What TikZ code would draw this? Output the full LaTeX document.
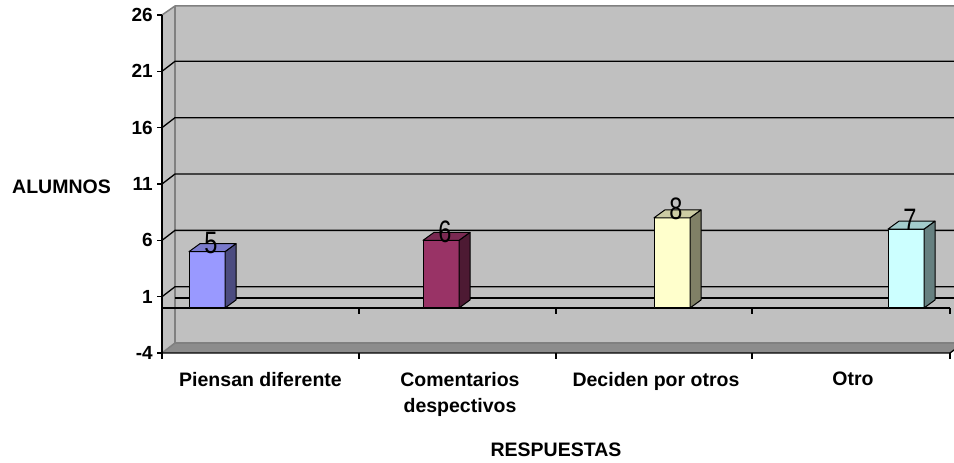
\documentclass[tikz,border=0pt]{standalone}
\usepackage{fontspec}
\setmainfont{Liberation Sans}
\newfontfamily\valuefont{Liberation Sans}[FakeStretch=0.76]
\usetikzlibrary{calc}
\usetikzlibrary{positioning}

\definecolor{wallgray}{HTML}{C0C0C0}
\definecolor{edgegray}{HTML}{808080}
\definecolor{floorgray}{HTML}{8C8C8C}
\definecolor{bluefront}{HTML}{9999FF}
\definecolor{blueside}{HTML}{4C4C80}
\definecolor{bluetop}{HTML}{7A7ACC}
\definecolor{plumfront}{HTML}{993366}
\definecolor{plumside}{HTML}{4D1A33}
\definecolor{plumtop}{HTML}{7A2952}
\definecolor{creamfront}{HTML}{FFFFCC}
\definecolor{creamside}{HTML}{808066}
\definecolor{creamtop}{HTML}{CCCCA3}
\definecolor{cyanfront}{HTML}{CCFFFF}
\definecolor{cyanside}{HTML}{668080}
\definecolor{cyantop}{HTML}{A3CCCC}

\tikzset{
  gridline/.style={line width=1.3pt},
  ticklabel/.style={anchor=east,inner sep=0pt,font=\bfseries\fontsize{19}{19}\selectfont},
  catlabel/.style={anchor=north,inner sep=0pt,align=center,font=\bfseries\fontsize{19.5}{26}\selectfont},
  titlelabel/.style={inner sep=0pt,font=\bfseries\fontsize{19.5}{19.5}\selectfont},
  valuelabel/.style={inner sep=0pt,font=\valuefont\fontsize{31}{31}\selectfont},
  baredge/.style={draw=black,line width=1pt,line join=round}
}

\begin{document}
\begin{tikzpicture}[x=1pt,y=1pt]
      \useasboundingbox (0,0) rectangle (954,463);
      % walls and floor
      \fill[wallgray] (175,120) rectangle (954,457);
      \fill[wallgray] (162,110) -- (162,448) -- (175,457) -- (175,120) -- cycle;
      \fill[floorgray] (162,110) -- (950,110) -- (963,120) -- (175,120) -- cycle;
      \draw[edgegray,line width=1.5pt] (162,448) -- (175,457) -- (954,457);
      \draw[edgegray,line width=1.5pt] (175,457) -- (175,120) -- (954,120);
      \draw[edgegray,line width=1.5pt] (162,110) -- (175,120);

      % gridlines
      \foreach \v in {1,6,11,16,21}
        \draw[gridline] (162,{155+11.27*\v}) -- ++(13,10) -- (954,{165+11.27*\v});
      \draw[gridline] (175,165) -- (954,165);
      \draw[gridline] (162,155) -- (950,155);
      \foreach \x in {359,556,752,950}
        \draw[gridline] (\x,155) -- (\x,149);

      % axes
      \draw[gridline] (162,110) -- (162,448);
      \draw[gridline] (162,110) -- (950,110) -- (958,116);
      \foreach \x in {162,359,556,752,950}
        \draw[gridline] (\x,110) -- (\x,104);
      \foreach \v [count=\i] in {-4,1,6,11,16,21,26} {
        \draw[gridline] (162,{155+11.27*\v}) -- (157,{155+11.27*\v});
        \node[ticklabel] (tick\i) at (153,{155+11.27*\v}) {\v};
      }

      % bars
      \foreach \x/\v/\fc/\sc/\tc [count=\i] in {189/5/bluefront/blueside/bluetop,
          423/6/plumfront/plumside/plumtop,
          654/8/creamfront/creamside/creamtop,
          888/7/cyanfront/cyanside/cyantop} {
        \pgfmathsetmacro\h{155+11.27*\v}
        \draw[baredge,fill=\fc] (\x,155) rectangle (\x+36,\h);
        \draw[baredge,fill=\sc] (\x+36,155) -- (\x+47,163) -- (\x+47,\h+8) -- (\x+36,\h) -- cycle;
        \draw[baredge,fill=\tc] (\x,\h) -- (\x+11,\h+8) -- (\x+47,\h+8) -- (\x+36,\h) -- cycle;
        \node[valuelabel] (val\i) at (\x+22,\h+9) {\v};
      }

      % labels
      \node[catlabel] (cat1) at (260.5,91) {Piensan diferente};
      \node[catlabel] (cat2) at (460,91) {Comentarios\\despectivos};
      \node[catlabel] (cat3) at (656,91) {Deciden por otros};
      \node[catlabel] (cat4) at (853,91) {Otro};
      \node[titlelabel] (xtitle) at (556,13) {RESPUESTAS};
      \node[titlelabel] (ytitle) at (61.5,276) {ALUMNOS};
    \end{tikzpicture}
\end{document}
